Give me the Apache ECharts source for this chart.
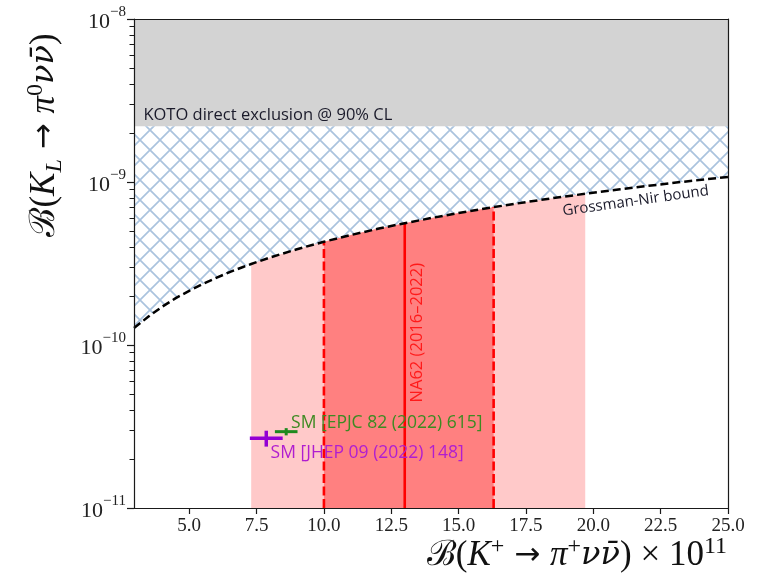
<!DOCTYPE html>
<html>
<head>
<meta charset="utf-8">
<script src="https://cdn.jsdelivr.net/npm/echarts@6/dist/echarts.min.js"></script>
<style>
  html, body { margin: 0; padding: 0; background: #fff; }
  #chart { width: 765px; height: 584px; }
</style>
</head>
<body>
<div id="chart"></div>
<script>
// Horizontal axis: B(K+ -> pi+ nu nubar) in units of 1e-11
const xTicks = [5.0, 7.5, 10.0, 12.5, 15.0, 17.5, 20.0, 22.5, 25.0];
// Vertical axis: B(KL -> pi0 nu nubar), decades and minor ticks
const yDecades = [1e-11, 1e-10, 1e-9, 1e-8];
const yMinor = [2e-11, 3e-11, 4e-11, 5e-11, 6e-11, 7e-11, 8e-11, 9e-11,
                2e-10, 3e-10, 4e-10, 5e-10, 6e-10, 7e-10, 8e-10, 9e-10,
                2e-9, 3e-9, 4e-9, 5e-9, 6e-9, 7e-9, 8e-9, 9e-9];

// KOTO direct limit (90% CL)
const kotoLimit = 2.2e-9;

// Grossman-Nir bound
const gnX = [2.95, 3.5, 4.0, 4.5, 5.0, 5.5, 6.0, 6.5, 7.0, 7.3, 8.0, 9.0, 10.0, 11.0, 12.0,
             13.0, 14.0, 15.0, 16.3, 17.5, 18.5, 19.7, 21.0, 23.0, 25.0];
const gnY = [1.27e-10, 1.50e-10, 1.72e-10, 1.94e-10, 2.15e-10, 2.37e-10, 2.58e-10, 2.80e-10,
             3.01e-10, 3.14e-10, 3.44e-10, 3.87e-10, 4.30e-10, 4.73e-10, 5.16e-10, 5.59e-10,
             6.02e-10, 6.45e-10, 7.01e-10, 7.53e-10, 7.96e-10, 8.47e-10, 9.03e-10, 9.89e-10, 1.075e-9];

// NA62 (2016-2022) measurement of B(K+): central value, 1 sigma and 2 sigma ranges
const na62Central = 13.0;
const na62Inner = [10.0, 16.3];
const na62Outer = [7.3, 19.7];

// SM predictions: [B(K+), error, B(KL), error]
const smEpjc = [8.60, 0.42, 2.94e-11, 0.15e-11];
const smJhep = [7.86, 0.61, 2.68e-11, 0.30e-11];

const xMin = 2.95, xMax = 25.0, yMin = 1e-11, yMax = 1e-8;

const gnAt = x => gnY[gnX.indexOf(x)];
const gnPoints = gnX.map((x, i) => [x, gnY[i]]);

function bandPoints(lo, hi) {
  const pts = [[lo, yMin]];
  gnX.forEach((x, i) => { if (x >= lo && x <= hi) pts.push([x, gnY[i]]); });
  pts.push([hi, yMin]);
  return pts;
}

function hatchTile(size, color, width) {
  const c = document.createElement('canvas');
  c.width = c.height = size;
  const g = c.getContext('2d');
  g.strokeStyle = color;
  g.lineWidth = width;
  for (const o of [-size, 0, size]) {
    g.beginPath(); g.moveTo(o, 0); g.lineTo(o + size, size); g.stroke();
    g.beginPath(); g.moveTo(o, size); g.lineTo(o + size, 0); g.stroke();
  }
  return c;
}

// Filled region whose data are the polygon vertices
function areaSeries(points, style, z) {
  return {
    type: 'custom', coordinateSystem: 'cartesian2d', xAxisIndex: 0, yAxisIndex: 0,
    silent: true, z: z, clip: true,
    data: points,
    encode: { x: 0, y: 1 },
    renderItem: (params, api) => {
      if (params.dataIndex !== 0) return null;
      return {
        type: 'polygon',
        shape: { points: points.map(p => api.coord(p)) },
        style: style
      };
    }
  };
}

function vlineSeries(xs, dash, z) {
  return {
    type: 'custom', coordinateSystem: 'cartesian2d', xAxisIndex: 0, yAxisIndex: 0,
    silent: true, z: z, clip: true,
    data: xs.map(x => [x, gnAt(x)]),
    encode: { x: 0, y: 1 },
    renderItem: (params, api) => {
      const x = api.value(0);
      const p0 = api.coord([x, yMin]);
      const p1 = api.coord([x, api.value(1)]);
      return {
        type: 'line',
        shape: { x1: p0[0], y1: p0[1], x2: p1[0], y2: p1[1] },
        style: { stroke: '#ff0000', lineWidth: 2.6, lineDash: dash ? [9, 3.5] : null }
      };
    }
  };
}

function crossSeries(pt, color, width, z) {
  return {
    type: 'custom', coordinateSystem: 'cartesian2d', xAxisIndex: 0, yAxisIndex: 0,
    silent: true, z: z,
    data: [pt],
    encode: { x: 0, y: 2 },
    renderItem: (params, api) => {
      const x = api.value(0), dx = api.value(1), y = api.value(2), dy = api.value(3);
      const a = api.coord([x - dx, y]), b = api.coord([x + dx, y]);
      const c = api.coord([x, y - dy]), d = api.coord([x, y + dy]);
      const st = { stroke: color, lineWidth: width };
      return {
        type: 'group',
        children: [
          { type: 'line', shape: { x1: a[0], y1: a[1], x2: b[0], y2: b[1] }, style: st },
          { type: 'line', shape: { x1: c[0], y1: c[1], x2: d[0], y2: d[1] }, style: st }
        ]
      };
    }
  };
}

// Minor ticks of the log axis (2..9 x 10^n), drawn just left of the axis line
const minorTickSeries = {
  type: 'custom', coordinateSystem: 'cartesian2d', xAxisIndex: 0, yAxisIndex: 0,
  silent: true, z: 30, clip: false,
  data: yMinor.map(v => [xMin, v]),
  encode: { x: 0, y: 1 },
  renderItem: (params, api) => {
    const p = api.coord([api.value(0), api.value(1)]);
    const yy = Math.round(p[1]) + 0.5;
    return {
      type: 'line',
      shape: { x1: p[0] - 4.5, y1: yy, x2: p[0], y2: yy },
      style: { stroke: '#1a1a1a', lineWidth: 1 }
    };
  }
};

// Text placed at a data position
function noteSeries(x, y, text, opts) {
  return {
    type: 'custom', coordinateSystem: 'cartesian2d', xAxisIndex: 0, yAxisIndex: 0,
    silent: true, z: 20,
    data: [[x, y]],
    encode: { x: 0, y: 1 },
    renderItem: (params, api) => {
      const p = api.coord([api.value(0), api.value(1)]);
      return {
        type: 'text',
        x: p[0], y: p[1],
        rotation: opts.rotation || 0,
        style: {
          text: text,
          fill: opts.color,
          font: opts.size + 'px "Open Sans", "Noto Sans", sans-serif',
          align: opts.align || 'left',
          verticalAlign: 'middle'
        }
      };
    }
  };
}

const series = [
  areaSeries([[xMin, kotoLimit], [xMax, kotoLimit], [xMax, yMax], [xMin, yMax]],
             { fill: '#d3d3d3' }, 1),
  areaSeries([[xMin, kotoLimit], [xMax, kotoLimit]].concat(gnPoints.slice().reverse()),
             { fill: { image: hatchTile(20, '#aac3de', 1.7), repeat: 'repeat' } }, 2),
  areaSeries(bandPoints(na62Outer[0], na62Outer[1]), { fill: '#ffc9c9' }, 3),
  areaSeries(bandPoints(na62Inner[0], na62Inner[1]), { fill: '#ff8080' }, 4),
  vlineSeries(na62Inner, true, 5),
  vlineSeries([na62Central], false, 5),
  {
    type: 'line', xAxisIndex: 0, yAxisIndex: 0, silent: true, z: 6,
    data: gnPoints, showSymbol: false, symbol: 'none', smooth: false,
    lineStyle: { color: '#000', width: 2.5, type: [8, 4] }
  },
  crossSeries(smJhep, '#9400d3', 3.5, 8),
  crossSeries(smEpjc, '#1e8a1e', 3, 9),
  minorTickSeries,
  noteSeries(3.30, 2.58e-9, 'KOTO direct exclusion @ 90% CL',
             { color: '#1a1a2a', size: 16.5 }),
  noteSeries(21.57, 7.64e-10, 'Grossman-Nir bound',
             { color: '#1a1a2a', size: 15, align: 'center', rotation: 0.14 }),
  noteSeries(13.48, 1.19e-10, 'NA62 (2016\u20132022)',
             { color: '#ff1a1a', size: 16.5, align: 'center', rotation: Math.PI / 2 }),
  noteSeries(8.78, 3.34e-11, 'SM [EPJC 82 (2022) 615]',
             { color: '#3d8a22', size: 17.5 }),
  noteSeries(8.02, 2.17e-11, 'SM [JHEP 09 (2022) 148]',
             { color: '#b01ed0', size: 17.5 })
];

const serif = '"Liberation Serif", "DejaVu Serif", serif';
const axisColor = '#1a1a1a';

function titleRich(size) {
  const sub = Math.round(size * 0.68);
  const lh = size + 8;
  return {
    n: { fontFamily: serif, fontSize: size, lineHeight: lh, fill: '#111' },
    i: { fontFamily: serif, fontStyle: 'italic', fontSize: size, lineHeight: lh, fill: '#111' },
    a: { fontFamily: '"DejaVu Sans", sans-serif', fontSize: size - 4, lineHeight: lh, fill: '#111' },
    v: { fontFamily: '"DejaVu Serif", serif', fontStyle: 'italic', fontSize: size - 3, lineHeight: lh, fill: '#111' },
    s: { fontFamily: serif, fontStyle: 'italic', fontSize: sub, lineHeight: 15, verticalAlign: 'bottom', fill: '#111' },
    p: { fontFamily: serif, fontSize: sub, lineHeight: 15, verticalAlign: 'top', fill: '#111' }
  };
}

const option = {
  animation: false,
  backgroundColor: '#ffffff',
  grid: { left: 134, right: 37, top: 19, bottom: 76, containLabel: false },
  xAxis: [
    {
      type: 'value', min: xMin, max: xMax, position: 'bottom', z: 10,
      axisLine: { show: true, onZero: false, lineStyle: { color: axisColor, width: 1.2 } },
      axisTick: { show: true, inside: false, length: 6, customValues: xTicks,
                  lineStyle: { color: axisColor, width: 1.2 } },
      axisLabel: { show: true, customValues: xTicks, margin: 9, color: '#222',
                   fontFamily: serif, fontSize: 19, formatter: v => v.toFixed(1) },
      splitLine: { show: false }
    },
    {
      type: 'value', min: xMin, max: xMax, position: 'top', z: 10,
      axisLine: { show: true, onZero: false, lineStyle: { color: axisColor, width: 1.2 } },
      axisTick: { show: false }, axisLabel: { show: false }, splitLine: { show: false }
    }
  ],
  yAxis: [
    {
      type: 'log', logBase: 10, min: yMin, max: yMax, splitNumber: 3, position: 'left', z: 10,
      axisLine: { show: true, onZero: false, lineStyle: { color: axisColor, width: 1.2 } },
      axisTick: { show: true, inside: false, length: 7, lineStyle: { color: axisColor, width: 1.2 } },
      axisLabel: {
        show: true, margin: 8, color: '#222',
        formatter: v => '{b|10}{e|\u2212' + (-Math.round(Math.log10(v))) + '}',
        rich: {
          b: { fontFamily: serif, fontSize: 22, lineHeight: 28, verticalAlign: 'bottom', color: '#222' },
          e: { fontFamily: serif, fontSize: 15, lineHeight: 16, verticalAlign: 'top', color: '#222' }
        }
      },
      splitLine: { show: false }, minorTick: { show: false }
    },
    {
      type: 'value', min: 0, max: 1, position: 'right', z: 10,
      axisLine: { show: true, onZero: false, lineStyle: { color: axisColor, width: 1.2 } },
      axisTick: { show: false }, axisLabel: { show: false }, splitLine: { show: false }
    }
  ],
  graphic: [
    {
      type: 'text', x: 45, y: 135, rotation: Math.PI / 2, z: 50,
      style: {
        text: '{n|\u212C(}{i|K}{s|L}{a| \u2192 }{i|\u03C0}{p|0}{v|\u03BD\u03BD\u0304}{n|)}',
        align: 'center', verticalAlign: 'middle',
        rich: titleRich(35)
      }
    },
    {
      type: 'text', x: 727, y: 556, z: 50,
      style: {
        text: '{n|\u212C(}{i|K}{p|+}{a| \u2192 }{i|\u03C0}{p|+}{v|\u03BD\u03BD\u0304}{n|) \u00D7 10}{p|11}',
        align: 'right', verticalAlign: 'middle',
        rich: titleRich(35)
      }
    }
  ],
  series: series
};

const chart = echarts.init(document.getElementById('chart'), null, { renderer: 'canvas' });
chart.setOption(option);
</script>
</body>
</html>
